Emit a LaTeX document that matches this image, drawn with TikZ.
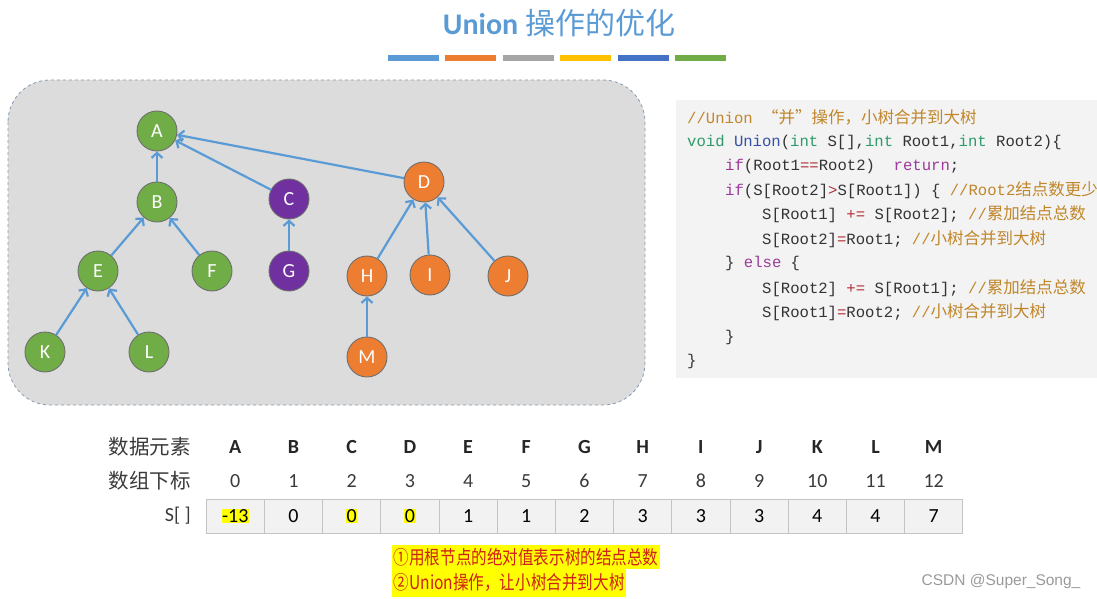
\documentclass[tikz,border=0pt]{standalone}
\usepackage{fontspec}
\setmainfont{Carlito}
\setmonofont{Liberation Mono}
\newfontfamily\cjk{Noto Sans CJK SC}
\newfontfamily\cjknarrow[FakeStretch=0.82]{Noto Sans CJK SC}
\newfontfamily\wmfont{Liberation Sans}
\usepackage{xcolor}
\usetikzlibrary{arrows.meta,positioning}
\definecolor{titleblue}{HTML}{5B9BD5}
\definecolor{barblue}{HTML}{5B9BD5}
\definecolor{barorange}{HTML}{ED7D31}
\definecolor{bargray}{HTML}{A5A5A5}
\definecolor{baryellow}{HTML}{FFC000}
\definecolor{bardark}{HTML}{4472C4}
\definecolor{bargreen}{HTML}{70AD47}
\definecolor{panelfill}{HTML}{DCDCDC}
\definecolor{panelline}{HTML}{8499B1}
\definecolor{treegreen}{HTML}{70AD47}
\definecolor{treepurple}{HTML}{7030A0}
\definecolor{treeorange}{HTML}{ED7D31}
\definecolor{nodeedge}{HTML}{6E6E6E}
\definecolor{arrowblue}{HTML}{5B9BD5}
\definecolor{codebg}{HTML}{F3F3F3}
\definecolor{codetext}{HTML}{333333}
\definecolor{codekw}{HTML}{2E9A6A}
\definecolor{codefn}{HTML}{3550A8}
\definecolor{codectl}{HTML}{9A3A9A}
\definecolor{codeop}{HTML}{B03038}
\definecolor{codecmt}{HTML}{C0862A}
\definecolor{cellfill}{HTML}{F2F2F2}
\definecolor{cellline}{HTML}{C4C4C4}
\definecolor{labelgray}{HTML}{3A3A3A}
\definecolor{hlyellow}{HTML}{FFFF00}
\definecolor{notered}{HTML}{D0201A}
\definecolor{wmgray}{HTML}{9A9A9A}
\tikzset{
  tnode/.style={circle,draw=nodeedge,line width=0.9pt,minimum size=40pt,inner sep=0pt,text=white,font=\fontsize{20}{20}\selectfont},
  tgreen/.style={tnode,fill=treegreen},
  tpurple/.style={tnode,fill=treepurple},
  torange/.style={tnode,fill=treeorange},
  uparr/.style={-{Straight Barb[length=5pt,width=11pt]},arrowblue,line width=2.2pt},
  codeline/.style={anchor=west,inner sep=0pt,text=codetext,font=\ttfamily\fontsize{15.6}{16}\selectfont},
  cellbox/.style={draw=cellline,line width=0.8pt,fill=cellfill,minimum width=58.2pt,minimum height=34pt,inner sep=0pt,font=\fontsize{20}{20}\selectfont},
  rowlabel/.style={anchor=east,inner sep=0pt,text=labelgray,font=\fontsize{20.5}{21}\selectfont},
  collabel/.style={inner sep=0pt,text=black!85,font=\bfseries\fontsize{20}{20}\selectfont},
  idxlabel/.style={inner sep=0pt,text=labelgray,font=\fontsize{20}{20}\selectfont},
  notebox/.style={anchor=west,fill=hlyellow,text=notered,inner xsep=1.5pt,inner ysep=0pt,minimum height=24pt,font=\cjknarrow\fontsize{19}{20}\selectfont},
}
\newcommand{\ckw}[1]{\textcolor{codekw}{#1}}
\newcommand{\cfn}[1]{\textcolor{codefn}{#1}}
\newcommand{\cctl}[1]{\textcolor{codectl}{#1}}
\newcommand{\cop}[1]{\textcolor{codeop}{#1}}
\newcommand{\ccmt}[1]{\textcolor{codecmt}{#1}}
\newcommand{\czh}[1]{{\cjk\fontsize{16.5}{16.5}\selectfont #1}}
\newcommand{\hlt}[1]{{\setlength{\fboxsep}{0.6pt}\colorbox{hlyellow}{#1}}}

\begin{document}
\begin{tikzpicture}[x=1pt,y=-1pt]
  \useasboundingbox (0,0) rectangle (1097,599);

  % title and colour bars
  \node[text=titleblue,font=\fontsize{30}{30}\selectfont] (title) at (559,23)
    {\textbf{Union} {\cjk 操作的优化}};
  \foreach \c [count=\i from 0] in {barblue,barorange,bargray,baryellow,bardark,bargreen}
    \fill[\c] (388+57.4*\i,55) rectangle ++(51,6);

  % tree panel
  \draw[dashed,draw=panelline,fill=panelfill,line width=0.8pt,rounded corners=42pt]
    (8,80) rectangle (645,405);

  \node[tgreen] (A) at (157,131) {A};
  \node[tgreen] (B) at (157,202) {B};
  \node[tgreen] (E) at (98,271) {E};
  \node[tgreen] (F) at (212,271) {F};
  \node[tgreen] (K) at (45,352) {K};
  \node[tgreen] (L) at (149,352) {L};
  \node[tpurple] (C) at (289,199) {C};
  \node[tpurple] (G) at (289,271) {G};
  \node[torange] (D) at (424,182) {D};
  \node[torange] (H) at (367,276) {H};
  \node[torange] (I) at (430,275) {I};
  \node[torange] (J) at (508,276) {J};
  \node[torange] (M) at (367,357) {M};

  \foreach \s/\t in {B/A,C/A,D/A,E/B,F/B,K/E,L/E,G/C,H/D,I/D,J/D,M/H}
    \draw[uparr] (\s) -- (\t);

  % code
  \fill[codebg] (676,100) rectangle (1097,378);
  \node[codeline] (code1) at (687,117) {\ccmt{//Union \czh{“并”操作，小树合并到大树}}};
  \node[codeline] (code2) at (687,142) {\ckw{void} \cfn{Union}(\ckw{int} S[],\ckw{int} Root1,\ckw{int} Root2)\{};
  \node[codeline] (code3) at (725,166) {\cctl{if}(Root1\cop{==}Root2)~~\cctl{return};};
  \node[codeline] (code4) at (725,190) {\cctl{if}(S[Root2]\cop{>}S[Root1]) \{ \ccmt{//Root2\czh{结点数更少}}};
  \node[codeline] (code5) at (762,214) {S[Root1] \cop{+=} S[Root2]; \ccmt{//\czh{累加结点总数}}};
  \node[codeline] (code6) at (762,239) {S[Root2]\cop{=}Root1; \ccmt{//\czh{小树合并到大树}}};
  \node[codeline] (code7) at (725,263) {\} \cctl{else} \{};
  \node[codeline] (code8) at (762,288) {S[Root2] \cop{+=} S[Root1]; \ccmt{//\czh{累加结点总数}}};
  \node[codeline] (code9) at (762,312) {S[Root1]\cop{=}Root2; \ccmt{//\czh{小树合并到大树}}};
  \node[codeline] (code10) at (725,337) {\}};
  \node[codeline] (code11) at (687,361) {\}};

  % array
  \node[rowlabel] (rowname) at (191,447) {\cjk 数据元素};
  \node[rowlabel] (rowidx) at (191,481) {\cjk 数组下标};
  \node[rowlabel,font=\fontsize{20}{20}\selectfont] (rowval) at (191,516) {S[ ]};
  \foreach \lab/\val [count=\i from 0] in {A/{\hlt{-13}},B/0,C/{\hlt{0}},D/{\hlt{0}},E/1,F/1,G/2,H/3,I/3,J/3,K/4,L/4,M/7} {
    \node[collabel] (name\lab) at (235.3+58.2*\i,447) {\lab};
    \node[idxlabel] (idx\lab) at (235.3+58.2*\i,481) {\i};
    \node[cellbox] (cell\lab) at (235.3+58.2*\i,516) {\val};
  }

  % notes
  \node[notebox] (note1) at (392,557) {①用根节点的绝对值表示树的结点总数};
  \node[notebox,minimum height=28pt] (note2) at (392,582.5) {②Union操作，让小树合并到大树};
  \node[text=wmgray,font=\wmfont\fontsize{15.5}{16}\selectfont] (mark) at (1001,581) {CSDN @Super\_Song\_};
\end{tikzpicture}
\end{document}
